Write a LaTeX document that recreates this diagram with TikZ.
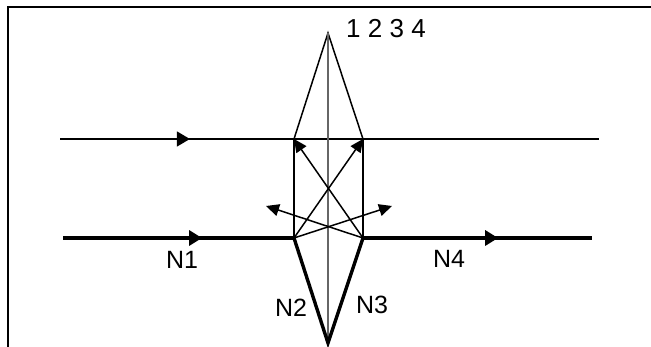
\documentclass[tikz,border=0pt]{standalone}
\usepackage{fontspec}
\setmainfont{Liberation Sans}
\usetikzlibrary{arrows.meta,decorations.markings}
\tikzset{
  thinray/.style={line width=1.5pt},
  thickray/.style={line width=3.4pt},
  axisray/.style={line width=1.5pt, black!60},
  lbl/.style={font=\fontsize{25}{25}\selectfont, inner sep=0pt},
  midtip/.style={postaction={decorate, decoration={markings,
    mark=at position #1 with {\arrow{Triangle[length=13pt,width=15pt]}}}}},
  tiparrow/.style={thinray, -{Triangle[length=13pt,width=12pt]}},
}
\begin{document}
\begin{tikzpicture}[x=1pt,y=-1pt]
\useasboundingbox (0,0) rectangle (651,347);
% frame
\coordinate (fa) at (7.5,347);
\coordinate (fb) at (7.5,7.5);
\coordinate (fc) at (651,7.5);
\draw[line width=2pt] (fa) -- (fb) -- (fc);
% points
\coordinate (apex) at (328,33);
\coordinate (base) at (328,343);
\coordinate (ul) at (294,139);
\coordinate (ur) at (363,139);
\coordinate (ll) at (294,238);
\coordinate (lr) at (363,238);
\coordinate (ta) at (60,139);
\coordinate (tb) at (599,139);
\coordinate (ba) at (63,238);
\coordinate (bb) at (592,238);
\coordinate (tl) at (266,206);
\coordinate (tr) at (392,206);
% thin rays
\draw[thinray, midtip=0.241] (ta) -- (tb);
\draw[thinray] (ul) -- (apex) -- (ur);
\draw[thinray] (ul) -- (ll);
\draw[thinray] (ur) -- (lr);
\draw[axisray] (apex) -- (base);
% thick rays
\draw[thickray, midtip=0.602] (ba) -- (ll);
\draw[thickray, midtip=0.59] (lr) -- (bb);
\draw[thickray, line join=miter] (ll) -- (base) -- (lr);
% arrows
\draw[tiparrow] (ll) -- (ur);
\draw[tiparrow] (lr) -- (ul);
\draw[tiparrow] (ll) -- (tr);
\draw[tiparrow] (lr) -- (tl);
% labels
\node[lbl] (n1) at (182,260) {N1};
\node[lbl] (n2) at (291,308) {N2};
\node[lbl] (n3) at (372,305) {N3};
\node[lbl] (n4) at (449,259) {N4};
\node[lbl, font=\fontsize{26}{26}\selectfont] (nums) at (386,29) {1 2 3 4};
\end{tikzpicture}
\end{document}
